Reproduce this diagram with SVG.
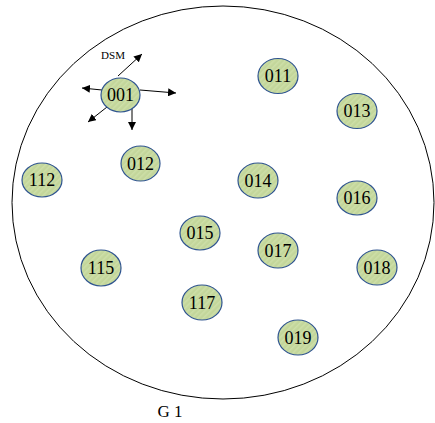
<svg xmlns="http://www.w3.org/2000/svg" width="435" height="423" viewBox="0 0 435 423">
<style>
.n ellipse{fill:url(#hatch);stroke:#2f5490;stroke-width:1.2}
.n text{font-family:"Liberation Serif",serif;font-size:18px;text-anchor:middle;fill:#000}
.c line{stroke:#000;stroke-width:1;marker-end:url(#ah)}
.lbl{font-family:"Liberation Serif",serif;fill:#000}
</style>
<defs>
<pattern id="hatch" width="4" height="4" patternUnits="userSpaceOnUse" patternTransform="rotate(45)">
<rect width="4" height="4" fill="#c3d69b"/>
<rect width="1.5" height="4" fill="#cddfa8"/>
</pattern>
<marker id="ah" viewBox="0 0 10 10" refX="10" refY="5" markerWidth="8" markerHeight="8" markerUnits="userSpaceOnUse" orient="auto">
<path d="M0,0 L10,5 L0,10 z" fill="#000"/>
</marker>
</defs>
<ellipse id="G1" cx="223" cy="202.5" rx="211" ry="196.5" fill="none" stroke="#000" stroke-width="1"/>
<text class="lbl" x="170" y="417" font-size="17" text-anchor="middle">G 1</text>
<text class="lbl" x="113" y="59" font-size="11" text-anchor="middle">DSM</text>
<g id="connectors" class="c">
<line x1="118" y1="76" x2="142" y2="54"/>
<line x1="102" y1="90" x2="82" y2="88"/>
<line x1="140" y1="90" x2="176" y2="93"/>
<line x1="107" y1="107" x2="88" y2="122"/>
<line x1="132" y1="108" x2="132" y2="130"/>
</g>
<g id="n001" class="n"><ellipse cx="120.5" cy="95" rx="19.5" ry="17"/><text x="120.5" y="101">001</text></g>
<g id="n011" class="n"><ellipse cx="278" cy="76" rx="20" ry="17.5"/><text x="278" y="82">011</text></g>
<g id="n013" class="n"><ellipse cx="357" cy="111" rx="20" ry="17.5"/><text x="357" y="117">013</text></g>
<g id="n112" class="n"><ellipse cx="42" cy="180" rx="20" ry="17"/><text x="42" y="186">112</text></g>
<g id="n012" class="n"><ellipse cx="140.5" cy="163.5" rx="19.5" ry="17.5"/><text x="140.5" y="170">012</text></g>
<g id="n014" class="n"><ellipse cx="258" cy="180.5" rx="20" ry="17.5"/><text x="258" y="187">014</text></g>
<g id="n016" class="n"><ellipse cx="357" cy="198" rx="20" ry="17"/><text x="357" y="204">016</text></g>
<g id="n015" class="n"><ellipse cx="200" cy="233" rx="20" ry="17"/><text x="200" y="239">015</text></g>
<g id="n017" class="n"><ellipse cx="278" cy="250.5" rx="20" ry="17.5"/><text x="278" y="257">017</text></g>
<g id="n115" class="n"><ellipse cx="101" cy="268" rx="20" ry="18"/><text x="101" y="274">115</text></g>
<g id="n018" class="n"><ellipse cx="377" cy="267.5" rx="20" ry="17.5"/><text x="377" y="274">018</text></g>
<g id="n117" class="n"><ellipse cx="202" cy="302.5" rx="20" ry="17.5"/><text x="202" y="309">117</text></g>
<g id="n019" class="n"><ellipse cx="298" cy="337.5" rx="20" ry="17.5"/><text x="298" y="344">019</text></g>
</svg>
